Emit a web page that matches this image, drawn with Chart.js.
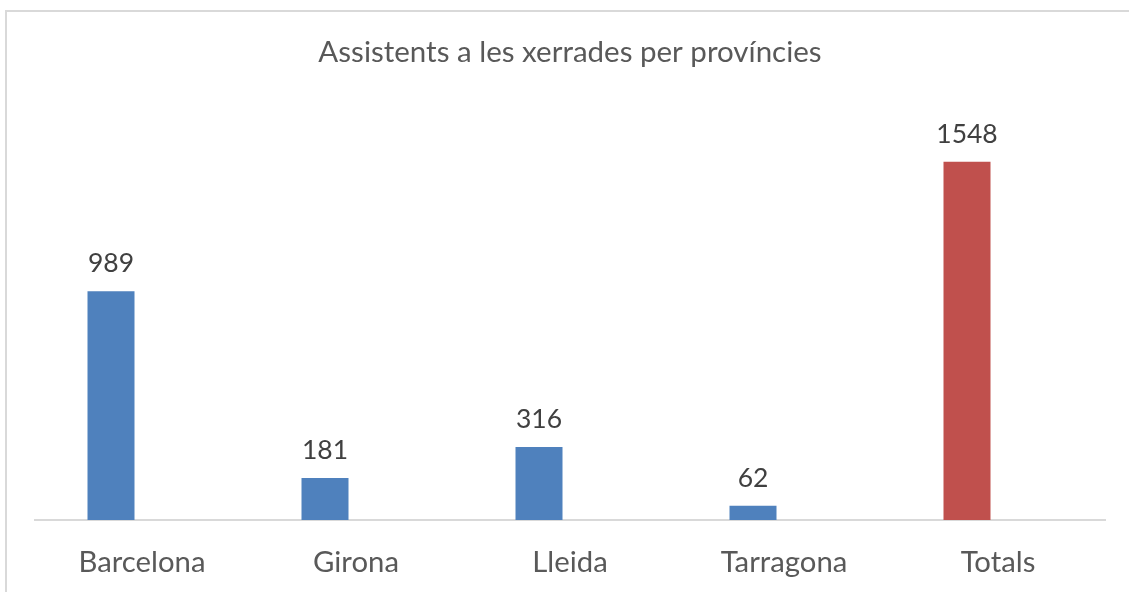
<!DOCTYPE html>
<html>
<head>
<meta charset="utf-8">
<script src="https://cdn.jsdelivr.net/npm/chart.js@4"></script>
<style>
  html, body { margin: 0; padding: 0; background: #ffffff; }
  #wrap { position: relative; width: 1129px; height: 592px; overflow: hidden; }
  #frame { position: absolute; left: 5px; top: 10px; width: 1200px; height: 700px; border: 2px solid #d9d9d9; box-sizing: border-box; pointer-events: none; }
  canvas { position: absolute; left: 0; top: 0; }
</style>
</head>
<body>
<div id="wrap">
  <div id="frame"></div>
  <canvas id="c" width="1129" height="592"></canvas>
</div>
<script>
const titleText = "Assistents a les xerrades per províncies";
const categories = ["Barcelona", "Girona", "Lleida", "Tarragona", "Totals"];
const attendees = [989, 181, 316, 62, 1548];
const barColors = ["#4F81BD", "#4F81BD", "#4F81BD", "#4F81BD", "#C0504D"];
const emptySeries = [null, null, null, null, null];

const FONT = "Lato, 'Open Sans', sans-serif";

const valueLabels = {
  id: "valueLabels",
  afterDatasetsDraw(chart) {
    const ctx = chart.ctx;
    const meta = chart.getDatasetMeta(0);
    ctx.save();
    ctx.font = "26.5px " + FONT;
    ctx.fillStyle = "#404040";
    ctx.textAlign = "center";
    ctx.textBaseline = "alphabetic";
    meta.data.forEach((bar, i) => {
      const v = chart.data.datasets[0].data[i];
      if (v == null) return;
      ctx.fillText(String(v), bar.x, bar.y - 19);
    });
    ctx.restore();
  }
};

new Chart(document.getElementById("c"), {
  type: "bar",
  data: {
    labels: categories,
    datasets: [
      { data: attendees, backgroundColor: barColors, borderWidth: 0 },
      { data: emptySeries, backgroundColor: "#9BBB59", borderWidth: 0 }
    ]
  },
  options: {
    responsive: false,
    animation: false,
    devicePixelRatio: 1,
    categoryPercentage: 124 / 214,
    barPercentage: 47 / 62,
    layout: { padding: { left: 35, right: 24, top: 0, bottom: 0 } },
    plugins: {
      legend: { display: false },
      tooltip: { enabled: false },
      title: {
        display: true,
        text: titleText,
        color: "#595959",
        font: { family: FONT, size: 29.5, weight: "normal", lineHeight: 1.2 },
        padding: { top: 34.3, bottom: 33.8 }
      }
    },
    scales: {
      x: {
        grid: { display: false, drawTicks: false },
        border: { display: true, color: "#d9d9d9", width: 2 },
        ticks: {
          color: "#595959",
          font: { family: FONT, size: 29.3, lineHeight: 1.2 },
          padding: 25,
          maxRotation: 0
        },
        afterFit(scale) { scale.height = 72; }
      },
      y: {
        display: false,
        min: 0,
        max: 1800
      }
    }
  },
  plugins: [valueLabels]
});
</script>
</body>
</html>
